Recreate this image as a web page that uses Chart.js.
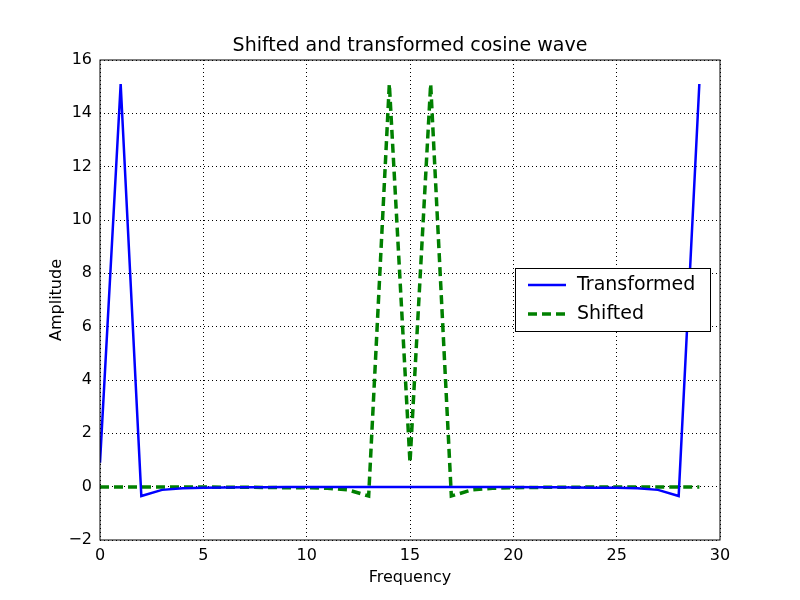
<!DOCTYPE html>
<html>
<head>
<meta charset="utf-8">
<script src="https://cdn.jsdelivr.net/npm/chart.js@4/dist/chart.umd.min.js"></script>
<style>body{margin:0;background:#fff}</style>
</head>
<body>
<canvas id="chart" width="800" height="600"></canvas>
<script>
// frequency bins 0..29
const freqs = Array.from({length: 30}, (_, i) => i);
const transformed = [0.9, 15.1, -0.35, -0.12, -0.06, -0.04, -0.03, -0.02, -0.02, -0.01, -0.01, -0.01, -0.01, -0.01, -0.01,
  -0.01, -0.01, -0.01, -0.01, -0.01, -0.01, -0.02, -0.02, -0.03, -0.04, -0.04, -0.06, -0.12, -0.35, 15.1];
const shifted = freqs.map(i => transformed[(i + 15) % 30]);
const yTicks = [-2, 0, 2, 4, 6, 8, 10, 12, 14, 16];
const xTicks = [0, 5, 10, 15, 20, 25, 30];

const FONT = 'DejaVu Sans';
const overlay = {
  id: 'overlay',
  afterDraw(chart) {
    const ctx = chart.ctx, a = chart.chartArea;
    ctx.save();
    ctx.strokeStyle = '#000'; ctx.lineWidth = 1;
    ctx.strokeRect(a.left, a.top, a.right - a.left, a.bottom - a.top);
    ctx.fillStyle = '#000'; ctx.font = '19px ' + FONT;
    ctx.textAlign = 'center'; ctx.textBaseline = 'bottom';
    ctx.fillText('Shifted and transformed cosine wave', (a.left + a.right) / 2, a.top - 4);
    // axis titles
    ctx.font = '16px ' + FONT; ctx.textBaseline = 'middle';
    ctx.fillText('Frequency', (a.left + a.right) / 2, 578);
    ctx.save(); ctx.translate(57, (a.top + a.bottom) / 2); ctx.rotate(-Math.PI / 2);
    ctx.fillText('Amplitude', 0, 0); ctx.restore();
    // legend box
    ctx.fillStyle = '#fff';
    ctx.fillRect(515, 268, 195, 63);
    ctx.strokeRect(515.5, 268.5, 195, 63);
    ctx.textAlign = 'left'; ctx.textBaseline = 'middle'; ctx.font = '19px ' + FONT;
    ctx.lineWidth = 2.5; ctx.strokeStyle = '#0000ff';
    ctx.beginPath(); ctx.moveTo(528, 285); ctx.lineTo(566, 285); ctx.stroke();
    ctx.fillStyle = '#000'; ctx.fillText('Transformed', 577, 285);
    ctx.lineWidth = 3.5; ctx.strokeStyle = '#008000'; ctx.setLineDash([9, 5]);
    ctx.beginPath(); ctx.moveTo(528, 314); ctx.lineTo(566, 314); ctx.stroke();
    ctx.setLineDash([]);
    ctx.fillText('Shifted', 577, 314);
    ctx.restore();
  }
};

new Chart(document.getElementById('chart').getContext('2d'), {
  type: 'line',
  data: {
    datasets: [
      {label: 'Transformed', data: freqs.map((f, i) => ({x: f, y: transformed[i]})),
       borderColor: '#0000ff', borderWidth: 2.5, pointRadius: 0, tension: 0},
      {label: 'Shifted', data: freqs.map((f, i) => ({x: f, y: shifted[i]})),
       borderColor: '#008000', borderWidth: 3.5, borderDash: [9, 5], pointRadius: 0, tension: 0}
    ]
  },
  options: {
    responsive: false, animation: false,
    layout: {padding: {top: 60, right: 80, left: 0, bottom: 0}},
    plugins: {legend: {display: false}, title: {display: false}, tooltip: {enabled: false}},
    scales: {
      x: {
        type: 'linear', min: 0, max: 30,
        afterBuildTicks: s => { s.ticks = xTicks.map(v => ({value: v})); },
        afterFit: s => { s.height = 60; },
        grid: {color: '#000', drawTicks: false},
        border: {display: false, dash: [1, 3]},
        ticks: {color: '#000', font: {family: FONT, size: 16}, padding: 6}
      },
      y: {
        min: -2, max: 16,
        afterBuildTicks: s => { s.ticks = yTicks.map(v => ({value: v})); },
        afterFit: s => { s.width = 100; },
        grid: {color: '#000', drawTicks: false},
        border: {display: false, dash: [1, 3]},
        ticks: {color: '#000', font: {family: FONT, size: 16}, padding: 8,
                callback: v => v < 0 ? '\u2212' + Math.abs(v) : v}
      }
    }
  },
  plugins: [overlay]
});
</script>
</body>
</html>
